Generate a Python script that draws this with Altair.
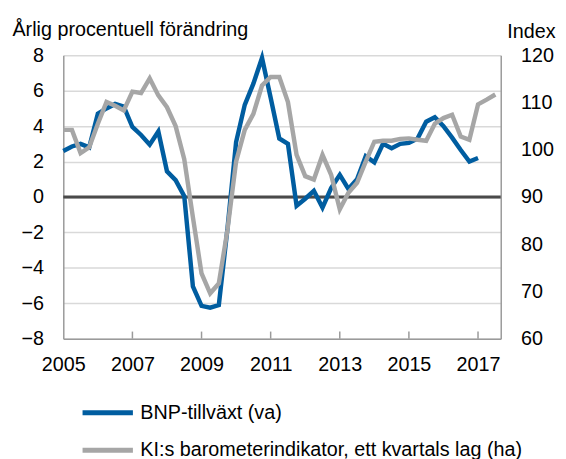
import altair as alt
import pandas as pd

# ---- data (quarterly, starting 2005 Q1) ----
start_year = 2005
bnp_growth = [2.6, 2.85, 3.0, 2.8, 4.7, 5.0, 5.25, 5.1, 3.95, 3.5, 2.95, 3.7,
              1.45, 0.95, 0.05, -5.05, -6.15, -6.25, -6.1, -1.8, 3.1, 5.2, 6.4, 7.85,
              5.6, 3.3, 3.0, -0.5, -0.1, 0.35, -0.6, 0.5, 1.25, 0.45, 1.0, 2.3,
              1.95, 3.0, 2.75, 3.0, 3.05, 3.3, 4.25, 4.5, 4.0, 3.35, 2.65, 2.0, 2.2]
ki_index = [104.2, 104.2, 99.3, 100.5, 105.5, 110.1, 109.3, 108.3, 112.3, 112.0, 115.1,
            111.5, 109.0, 105.0, 98.0, 85.7, 73.8, 69.6, 71.7, 83.0, 97.5,
            104.2, 107.6, 113.6, 115.4, 115.4, 110.1, 98.9, 94.4, 93.7, 98.9,
            94.7, 87.4, 90.9, 93.0, 97.5, 101.7, 101.9, 101.9, 102.3, 102.4,
            102.1, 101.9, 105.5, 106.7, 107.4, 102.8, 102.1, 109.6, 110.6, 111.7]
year_ticks = [2005, 2007, 2009, 2011, 2013, 2015, 2017]
inner_ticks = [2007, 2009, 2011, 2013, 2015, 2017]
left_ticks = [-8, -6, -4, -2, 0, 2, 4, 6, 8]
right_ticks = [60, 70, 80, 90, 100, 110, 120]

BNP_LABEL = "BNP-tillväxt (va)"
KI_LABEL = "KI:s barometerindikator, ett kvartals lag (ha)"
LEFT_TITLE = "Årlig procentuell förändring"
RIGHT_TITLE = "Index"

FONT = "Liberation Sans"
BLUE = "#005DA0"
GRAY = "#A6A6A6"
AXIS_GRAY = "#9A9A9A"

df_bnp = pd.DataFrame({"t": [start_year + i / 4 for i in range(len(bnp_growth))],
                       "v": bnp_growth, "serie": BNP_LABEL})
df_ki = pd.DataFrame({"t": [start_year + i / 4 for i in range(len(ki_index))],
                      "v": ki_index, "serie": KI_LABEL})
df_zero = pd.DataFrame({"z": [0]})
df_ticks = pd.DataFrame({"t": inner_ticks, "lo": [-8] * len(inner_ticks),
                         "hi": [-7.6] * len(inner_ticks)})

x_enc = alt.X("t:Q",
              scale=alt.Scale(domain=[2005, 2017.657], nice=False, zero=False),
              axis=alt.Axis(values=year_ticks, format="d", title=None, ticks=False,
                            grid=False, labelPadding=16, labelFontSize=20,
                            labelFlush=False, domainColor=AXIS_GRAY, domainWidth=1.5))

color_enc = alt.Color("serie:N",
                      scale=alt.Scale(domain=[BNP_LABEL, KI_LABEL], range=[BLUE, GRAY]),
                      legend=alt.Legend(title=None, orient="none", legendX=17, legendY=334,
                                        direction="vertical", symbolType="stroke",
                                        symbolSize=2600, symbolStrokeWidth=5,
                                        labelFontSize=20, labelFont=FONT, labelOffset=5,
                                        labelLimit=600,
                                        labelColor="black", rowPadding=-3, padding=0))

left_scale = alt.Scale(domain=[-8, 8], nice=False, zero=False)

zero_line = alt.Chart(df_zero).mark_rule(color="#4A4A4A", strokeWidth=3).encode(
    y=alt.Y("z:Q", scale=left_scale, axis=None))

tick_marks = alt.Chart(df_ticks).mark_rule(color=AXIS_GRAY, strokeWidth=1.5).encode(
    x=x_enc,
    y=alt.Y("lo:Q", scale=left_scale, axis=None),
    y2="hi:Q")

bnp_line = alt.Chart(df_bnp).mark_line(strokeWidth=4.5).encode(
    x=x_enc,
    y=alt.Y("v:Q", scale=left_scale,
            axis=alt.Axis(orient="left", values=left_ticks, grid=True, gridColor="#D9D9D9",
                          gridWidth=1.5, ticks=False, domainColor=AXIS_GRAY, domainWidth=1.5,
                          labelPadding=20, labelFontSize=20,
                          title=LEFT_TITLE, titleAngle=0, titleAlign="left",
                          titleBaseline="alphabetic", titleX=-52, titleY=-20,
                          titleFontWeight="normal", titleFontSize=20)),
    color=color_enc)

ki_line = alt.Chart(df_ki).mark_line(strokeWidth=4.5).encode(
    x=x_enc,
    y=alt.Y("v:Q", scale=alt.Scale(domain=[60, 120], nice=False, zero=False),
            axis=alt.Axis(orient="right", values=right_ticks, grid=False, ticks=False,
                          domainColor=AXIS_GRAY, domainWidth=1.5,
                          labelPadding=20, labelFontSize=20,
                          title=RIGHT_TITLE, titleAngle=0, titleAlign="right",
                          titleBaseline="alphabetic", titleX=55, titleY=-18,
                          titleFontWeight="normal", titleFontSize=20)),
    color=color_enc)

chart = alt.layer(zero_line, tick_marks, bnp_line, ki_line).resolve_scale(
    y="independent"
).properties(
    width=443, height=287,
    autosize=alt.AutoSizeParams(type="none"),
    padding={"left": 56, "top": 45, "right": 58, "bottom": 119},
).configure_view(stroke=None).configure_axis(
    labelFont=FONT, titleFont=FONT, labelColor="black", titleColor="black"
).configure_legend(labelFont=FONT)

chart.save("out.html", embed_options={"renderer": "svg", "actions": False})
